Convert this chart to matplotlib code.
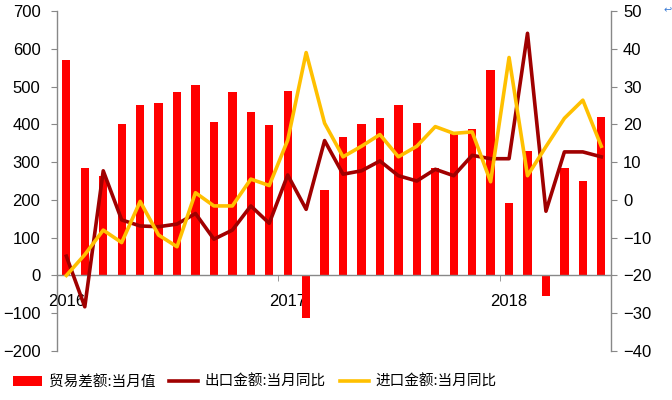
import matplotlib
matplotlib.use("Agg")
import matplotlib.pyplot as plt
import numpy as np

plt.rcParams['font.family'] = ['Liberation Sans', 'Noto Sans CJK SC', 'DejaVu Sans']

months = [f"{y}-{m:02d}" for y in (2016, 2017, 2018) for m in range(1, 13)][:30]
balance = [570, 284, 262, 400, 451, 456, 485, 504, 406, 485, 432, 398,
           489, -112, 226, 367, 400, 416, 451, 403, 285, 375, 387, 543,
           192, 329, -54, 284, 250, 419]
export_yoy = [-14.9, -28.3, 7.7, -5.3, -6.9, -7.1, -6.4, -3.6, -10.4, -8.0, -1.6, -6.2,
              6.6, -2.5, 15.7, 6.8, 7.7, 10.3, 6.4, 5.0, 8.1, 6.4, 11.8, 10.9,
              10.9, 44.1, -3.0, 12.7, 12.7, 11.4]
import_yoy = [-20.0, -14.5, -8.0, -11.3, -0.4, -9.3, -12.4, 1.9, -1.6, -1.6, 5.5, 3.8,
              15.8, 39.0, 20.3, 11.4, 14.2, 17.3, 11.4, 14.2, 19.4, 17.6, 18.0, 4.8,
              37.7, 6.4, 14.1, 21.6, 26.4, 14.2]
year_labels = ["2016", "2017", "2018"]
legend_labels = ["贸易差额:当月值", "出口金额:当月同比", "进口金额:当月同比"]

x = np.arange(len(months))

fig = plt.figure(figsize=(6.72, 4.0), dpi=100)
ax = fig.add_axes([0.085, 0.1225, 0.8235, 0.85])
ax2 = ax.twinx()

bars = ax.bar(x, balance, width=0.45, color='#FF0000', zorder=2)
l1, = ax2.plot(x, export_yoy, color='#A00000', lw=2.6, zorder=3)
l2, = ax2.plot(x, import_yoy, color='#FFC000', lw=2.6, zorder=4)

ax.set_xlim(-0.5, len(months) - 0.5)
ax.set_ylim(-200, 700)
ax.set_yticks(np.arange(-200, 701, 100))
ax2.set_ylim(-40, 50)
ax2.set_yticks(np.arange(-40, 51, 10))

gray = '#888888'
ax.spines['top'].set_visible(False)
ax2.spines['top'].set_visible(False)
ax.spines['right'].set_visible(False)
ax2.spines['left'].set_visible(False)
ax2.spines['bottom'].set_visible(False)
ax.spines['bottom'].set_position(('data', 0))
for sp in (ax.spines['left'], ax.spines['bottom'], ax2.spines['right']):
    sp.set_color(gray)
    sp.set_linewidth(1.0)

jan_idx = [i for i, m in enumerate(months) if m.endswith('-01')]
ax.set_xticks(jan_idx)
ax.set_xticklabels(year_labels)
ax.set_xticks([i - 0.5 for i in jan_idx], minor=True)
ax.tick_params(axis='x', which='major', length=0, pad=13, labelsize=12)
ax.tick_params(axis='x', which='minor', length=4, color=gray, direction='out')
ax.tick_params(axis='y', length=4, color=gray, labelsize=12, pad=8)
ax2.tick_params(axis='y', length=4, color=gray, labelsize=12, pad=5)

ax.set_zorder(ax2.get_zorder() - 1)
ax.patch.set_visible(True)
ax2.patch.set_visible(False)

leg = fig.legend([bars, l1, l2], legend_labels, loc='lower left',
                 bbox_to_anchor=(0.0, -0.005), ncol=3, frameon=False,
                 prop={'family': ['Noto Sans CJK SC'], 'size': 10.5},
                 handlelength=2.0, handleheight=0.7, handletextpad=0.45,
                 columnspacing=0.95)

fig.text(0.999, 0.975, "↩", color='#3A7BD5', fontsize=7, ha='right', va='center',
         family=['DejaVu Sans'])

fig.savefig("out.png", dpi=100)
